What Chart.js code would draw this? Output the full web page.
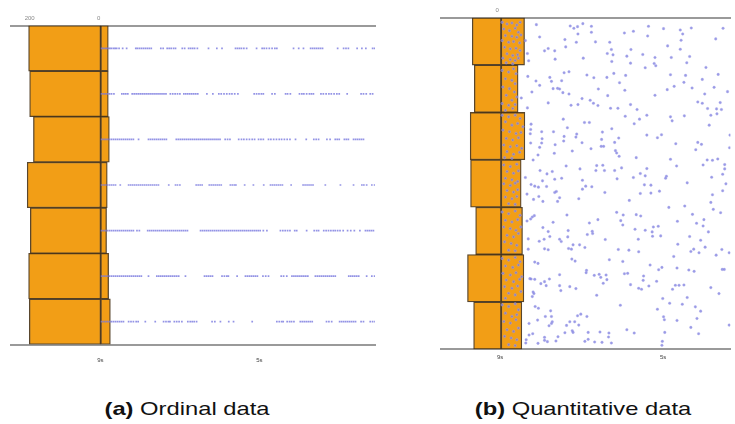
<!DOCTYPE html>
<html>
<head>
<meta charset="utf-8">
<script src="https://cdn.jsdelivr.net/npm/chart.js@4.4.1/dist/chart.umd.min.js"></script>
<style>
  body { margin: 0; background: #fff; width: 735px; height: 424px; position: relative; overflow: hidden; }
  canvas { position: absolute; top: 0; }
  #ordinalChart { left: 0; }
  #quantChart { left: 436px; }
  .caption { position: absolute; top: 398px; width: 300px; text-align: center; font: 19px/22px "Liberation Sans", Arial, sans-serif; color: #111; transform: scaleX(1.25); }
</style>
</head>
<body>
<canvas id="ordinalChart" width="380" height="370"></canvas>
<canvas id="quantChart" width="299" height="370"></canvas>
<div class="caption" style="left:37px"><b>(a)</b> Ordinal data</div>
<div class="caption" style="left:433px"><b>(b)</b> Quantitative data</div>
<script>
  // (a) ordinal data: 7 rows
  const rowsA = [0.5, 1.5, 2.5, 3.5, 4.5, 5.5, 6.5]
  const leftCountsA = [209, 206, 195, 213, 204, 209, 207]
  const rightCountsA = [22, 22, 25, 19, 17, 23, 28]
  const countTicksA = [200, 0]
  const timeTicks = [9, 5]

  // event times (s) per row
  const timesA = [
    [8.97,8.93,8.88,8.84,8.80,8.76,8.72,8.67,8.63,8.59,8.53,8.44,8.34,8.11,8.07,8.02,7.97,7.92,7.87,7.82,7.77,7.72,7.48,7.42,7.32,7.27,7.22,7.16,7.11,6.94,6.88,6.78,6.73,6.68,6.63,6.56,6.28,6.07,5.94,5.60,5.55,5.50,5.45,5.39,5.32,5.07,4.93,4.88,4.82,4.75,4.68,4.61,4.56,4.14,4.01,3.89,3.71,3.66,3.61,3.56,3.51,3.46,3.41,3.03,2.88,2.82,2.76,2.54,2.42,2.32,2.15,2.10],
    [8.97,8.92,8.87,8.82,8.77,8.72,8.66,8.46,8.41,8.36,8.31,8.20,8.15,8.10,8.05,8.00,7.95,7.90,7.85,7.80,7.75,7.70,7.65,7.60,7.55,7.50,7.45,7.40,7.35,7.24,7.18,7.12,7.06,7.00,6.90,6.85,6.80,6.75,6.70,6.65,6.60,6.55,6.32,6.17,6.02,5.96,5.89,5.82,5.75,5.69,5.62,5.54,5.13,5.07,5.01,4.95,4.90,4.68,4.61,4.34,4.29,4.22,3.99,3.93,3.88,3.81,3.74,3.69,3.64,3.45,3.39,3.32,3.25,3.19,3.12,3.05,2.99,2.79,2.44,2.38,2.31,2.21,2.15],
    [8.97,8.92,8.87,8.82,8.77,8.72,8.67,8.62,8.57,8.52,8.47,8.42,8.37,8.32,8.27,8.22,8.17,8.04,7.79,7.74,7.69,7.64,7.59,7.54,7.49,7.44,7.39,7.34,7.09,7.04,6.99,6.94,6.89,6.84,6.79,6.74,6.69,6.64,6.59,6.54,6.49,6.44,6.39,6.34,6.29,6.24,6.19,6.14,6.09,6.04,5.99,5.86,5.80,5.74,5.52,5.45,5.39,5.32,5.25,5.18,5.12,5.02,4.96,4.90,4.77,4.71,4.64,4.57,4.50,4.44,4.37,4.30,4.23,4.09,3.82,3.63,3.57,3.51,3.30,3.22,3.09,3.04,2.99,2.86,2.81,2.76,2.63,2.58,2.53,2.48,2.43,2.38],
    [8.97,8.92,8.87,8.82,8.77,8.72,8.67,8.62,8.50,8.29,8.24,8.19,8.14,8.09,8.04,7.99,7.94,7.89,7.84,7.79,7.74,7.69,7.64,7.59,7.54,7.28,7.11,7.06,7.00,6.59,6.54,6.49,6.44,6.26,6.21,6.16,6.11,6.06,6.01,5.96,5.73,5.68,5.63,5.59,5.37,5.15,4.89,4.72,4.67,4.62,4.57,4.52,4.47,4.42,4.20,3.90,3.85,3.80,3.75,3.70,3.65,3.34,2.96,2.63,2.42,2.37,2.30,2.17,2.10],
    [8.97,8.92,8.87,8.82,8.77,8.72,8.67,8.62,8.57,8.52,8.47,8.42,8.37,8.32,8.27,8.22,8.17,8.08,8.02,7.81,7.76,7.71,7.66,7.61,7.56,7.51,7.46,7.41,7.36,7.31,7.26,7.21,7.16,7.11,7.06,7.01,6.96,6.91,6.86,6.81,6.48,6.43,6.38,6.33,6.28,6.23,6.18,6.13,6.08,6.03,5.98,5.93,5.88,5.83,5.78,5.73,5.68,5.63,5.58,5.53,5.48,5.43,5.38,5.33,5.28,5.23,5.18,5.13,5.08,5.03,4.98,4.90,4.81,4.47,4.41,4.35,4.29,4.23,4.11,4.06,3.81,3.62,3.56,3.51,3.38,3.32,3.26,3.20,3.14,3.09,3.03,2.97,2.89,2.78,2.70,2.61,2.47,2.33,2.28,2.23,2.18,2.13],
    [8.97,8.92,8.87,8.82,8.77,8.72,8.67,8.62,8.57,8.52,8.47,8.42,8.37,8.32,8.27,8.22,8.17,8.12,8.07,8.02,7.97,7.79,7.58,7.53,7.48,7.43,7.38,7.33,7.28,7.23,7.18,7.13,7.08,7.03,6.86,6.38,6.33,6.28,6.23,6.18,5.94,5.88,5.82,5.78,5.56,5.35,5.30,5.25,5.20,5.15,5.10,5.05,4.91,4.84,4.77,4.45,4.39,4.31,4.18,4.13,4.08,4.03,3.98,3.93,3.88,3.83,3.78,3.59,3.54,3.49,3.44,3.39,3.34,3.29,3.24,3.19,3.14,3.09,2.75,2.70,2.65,2.60,2.55,2.50,2.30,2.17,2.10],
    [8.97,8.92,8.87,8.82,8.77,8.72,8.67,8.62,8.57,8.52,8.47,8.42,8.29,8.23,8.17,8.10,8.05,7.87,7.62,7.41,7.35,7.29,7.25,7.14,7.08,7.02,6.95,6.80,6.74,6.69,6.64,6.58,6.19,6.12,5.98,5.77,5.65,5.18,4.56,4.50,4.44,4.40,4.30,4.24,4.19,4.13,3.97,3.92,3.87,3.82,3.77,3.72,3.67,3.31,3.25,3.18,2.98,2.93,2.88,2.83,2.78,2.73,2.68,2.63,2.58,2.44,2.38,2.21,2.15,2.09]
  ]

  // (b) quantitative data: 7 bins over a 0-100 value range
  const binsB = [7.14, 21.43, 35.71, 50, 64.29, 78.57, 92.86]
  const leftCountsB = [85, 79, 91, 90, 75, 99, 81]
  const rightCountsB = [69, 50, 70, 59, 63, 67, 61]
  const countTicksB = [0]

  // [time (s), value]
  const pointsB = [
    [8.11,2.1],[7.28,2.5],[7.19,3.2],[7.10,2.7],[6.97,1.8],[6.76,2.6],[7.09,4.9],[6.76,4.4],[5.95,4.6],[5.73,4.1],[5.36,2.6],[4.99,3.3],[4.58,3.7],[4.52,4.9],[4.31,3.1],[3.53,3.2],
    [8.03,5.8],[7.41,6.6],[8.38,6.9],[7.13,7.4],[6.66,7.3],[6.31,7.4],[5.38,5.5],[4.56,6.8],[3.71,6.4],
    [7.39,8.8],[7.82,9.3],[7.91,10.0],[7.66,10.0],[6.27,9.6],[5.79,9.6],[4.89,8.5],[4.58,9.5],
    [8.33,10.8],[6.37,10.8],[6.23,11.2],[5.89,11.6],[5.50,11.1],[5.20,12.0],[4.80,12.0],[4.35,11.7],
    [8.30,13.0],[7.65,12.5],[6.96,12.2],[6.26,13.2],[5.80,13.7],[5.22,13.8],[5.18,14.5],[4.42,13.6],[3.95,15.0],[5.44,15.1],
    [7.43,16.6],[7.31,16.3],[6.87,17.3],[6.70,18.1],[6.38,18.0],[6.21,16.8],[5.92,17.4],[4.82,17.2],[4.45,17.4],[3.65,17.1],
    [8.32,17.7],[7.78,18.0],[8.12,19.1],[7.49,19.0],[8.03,20.4],[7.74,19.2],[6.07,19.6],[4.49,19.5],[4.04,18.6],
    [7.70,21.4],[7.59,21.3],[7.54,21.5],[6.59,21.5],[5.94,21.9],[4.90,21.7],[4.73,20.7],[4.29,21.2],[3.75,21.0],[3.42,22.3],
    [8.22,22.4],[7.46,22.6],[7.31,23.0],[6.36,23.5],[5.20,23.4],[3.98,23.0],[6.99,24.4],[6.79,24.9],[8.48,24.2],
    [7.82,25.7],[7.26,26.4],[7.09,26.2],[6.71,25.8],[6.60,26.5],[4.15,25.4],[4.04,25.8],[3.60,25.6],
    [8.33,27.2],[6.29,27.3],[6.11,27.3],[5.80,26.2],[5.64,27.7],[3.91,27.4],[3.69,27.5],[3.57,27.7],
    [5.93,29.7],[5.40,29.4],[4.82,29.9],[4.48,29.6],[3.83,29.4],[3.68,29.0],
    [7.45,30.6],[5.58,30.6],[4.78,31.1],[6.93,31.6],[6.81,31.6],[5.71,32.0],[3.87,32.4],[8.24,32.1],
    [8.25,33.7],[7.35,33.2],[6.26,33.5],[8.26,35.0],[7.98,34.4],[7.69,34.4],[7.12,35.1],[6.49,34.5],[5.40,35.4],[5.04,35.3],[5.14,36.2],[3.36,35.4],
    [7.97,36.5],[7.43,35.8],[7.14,36.0],[6.09,36.3],[6.51,36.7],[6.19,37.6],[4.15,37.6],[4.06,38.2],[4.69,38.0],
    [8.25,37.8],[7.98,37.8],[7.65,38.3],[7.44,37.2],[6.99,37.7],[6.52,38.8],[6.46,38.8],[8.03,39.1],[6.77,39.5],[6.17,40.1],[6.14,40.8],[4.20,39.8],[3.37,39.2],
    [8.07,41.4],[7.67,40.9],[7.23,40.2],[6.08,41.8],[5.66,42.2],[4.82,42.7],[3.92,42.9],[3.79,43.0],[3.66,42.6],[4.02,44.4],[3.49,44.3],
    [8.19,42.9],[7.38,44.7],[6.63,44.6],[6.48,44.5],[6.02,45.3],[5.40,45.5],[4.67,44.7],
    [8.02,46.1],[7.85,47.1],[7.72,46.4],[7.04,45.6],[6.65,46.1],[6.44,46.1],[6.19,46.1],[5.56,47.0],[3.49,45.6],[3.54,47.2],
    [4.92,47.8],[4.94,48.4],[5.73,48.2],[5.44,47.7],[7.96,49.2],[7.66,48.7],[7.49,48.4],[6.98,49.0],[8.38,48.2],[6.13,48.6],[3.81,48.1],
    [8.24,50.3],[8.15,50.8],[8.06,51.1],[7.86,50.9],[6.98,51.7],[6.90,50.8],[6.75,51.0],[5.46,50.4],[5.30,50.5],[4.41,49.8],[3.46,50.1],
    [8.34,53.2],[8.05,53.9],[8.18,54.8],[7.95,55.4],[7.66,52.7],[7.62,52.4],[7.54,54.3],[7.59,55.4],[7.07,54.6],[6.43,52.7],[5.56,53.0],[5.30,52.9],[5.09,52.3],[5.83,55.1],[3.79,53.4],[3.54,52.2],[3.83,55.7],
    [4.86,57.2],[4.47,56.8],[3.77,57.8],[3.59,58.8],[7.36,59.5],[6.14,58.7],[5.98,59.5],[5.66,59.4],[5.55,59.8],[4.28,59.3],
    [8.21,60.1],[8.16,59.7],[8.25,60.7],[8.34,61.3],[7.70,61.7],[6.81,61.9],[6.60,60.9],[6.04,61.2],[5.99,62.5],[4.65,61.4],[4.18,62.0],[4.00,60.9],[4.02,62.8],
    [7.95,63.3],[7.82,64.5],[7.78,66.0],[7.33,64.2],[6.74,64.4],[6.73,65.1],[6.86,65.4],[5.69,63.8],[5.44,64.1],[5.24,63.1],[5.12,62.9],[5.27,64.6],[5.26,65.9],[5.06,65.8],[3.89,64.6],
    [8.31,66.7],[8.04,67.4],[7.92,66.8],[7.54,66.8],[7.50,67.5],[7.34,66.1],[6.42,66.9],[5.61,66.8],[4.35,66.0],[4.08,67.1],
    [7.21,68.5],[7.05,68.5],[6.92,69.3],[7.32,69.6],[7.25,69.8],[7.91,69.7],[7.82,70.0],[8.31,69.8],[6.10,69.9],[5.84,70.1],[5.60,70.6],[4.64,68.3],[4.25,69.8],[4.32,70.5],[4.12,70.9],[3.97,69.2],[3.56,69.9],[3.70,71.6],[3.38,70.9],[4.74,72.0],
    [8.15,73.7],[8.07,74.1],[7.24,72.8],[7.16,73.4],[6.32,73.0],[5.99,73.5],[5.32,74.6],[5.11,76.0],[5.03,75.3],[4.66,75.5],[4.37,76.1],[4.24,76.5],[3.55,75.9],[3.50,75.9],
    [6.88,76.2],[6.89,76.9],[6.69,77.7],[6.57,77.4],[6.53,78.3],[6.40,77.6],[6.38,79.0],[7.54,77.5],[5.95,77.2],[5.87,77.1],[5.48,77.9],[5.49,79.2],[5.16,79.5],
    [8.27,78.7],[8.24,78.8],[8.15,78.9],[7.79,78.8],[7.91,79.6],[8.00,80.2],[7.87,80.8],[7.54,80.8],[7.51,82.3],[7.29,81.1],[7.14,81.7],[6.47,80.1],[5.80,80.5],[5.60,81.6],[5.53,81.9],[5.35,80.9],[4.77,81.9],[4.70,80.7],[4.61,80.7],[4.49,80.6],[3.83,81.4],[3.63,83.2],
    [8.19,82.7],[8.17,83.2],[8.21,84.1],[6.63,83.7],[5.01,84.7],[4.41,84.4],[4.84,86.1],[4.53,86.4],[6.05,86.7],[8.14,87.1],[8.06,87.6],[7.76,88.4],[5.14,87.9],[4.21,87.2],[4.08,88.5],
    [7.89,90.1],[7.74,90.1],[7.10,89.9],[7.02,89.4],[6.87,90.1],[4.99,90.2],[4.97,91.1],[4.66,91.3],[4.17,90.7],
    [8.29,92.2],[8.08,91.2],[7.72,91.7],[7.74,92.2],[7.80,92.9],[7.37,92.8],[7.29,91.7],[7.17,91.7],[7.07,92.7],[4.32,93.4],[3.38,92.7],
    [8.29,95.7],[8.20,95.3],[7.91,96.4],[7.58,96.2],[7.41,95.0],[7.23,94.4],[7.21,94.9],[6.84,94.9],[6.55,94.8],[6.33,95.1],[5.89,94.1],[5.71,95.1],[4.96,94.9],[4.13,95.3],
    [7.91,97.3],[7.84,97.7],[7.63,97.5],[6.92,97.6],[6.84,97.0],[6.68,97.8],[6.50,97.9],[6.34,96.3],[6.27,98.1],[8.07,98.2],[8.36,97.1],[8.37,98.1],[5.02,97.6],[5.03,98.8]
  ]

  // the dense cluster just after 9s
  const earlyPointsB = [
    [8.95,1.4],[8.83,1.9],[8.71,1.6],[8.59,2.2],[8.51,1.4],[8.91,3.4],[8.77,3.9],[8.63,3.2],[8.55,4.4],[8.87,5.4],[8.71,5.6],[8.59,5.9],[8.49,5.2],[8.95,6.9],[8.79,7.4],[8.67,7.2],[8.52,7.6],[8.89,8.9],[8.75,9.4],[8.61,9.2],[8.51,9.9],[8.83,10.9],[8.69,11.4],[8.57,11.2],[8.93,12.2],[8.75,12.6],[8.63,12.9],[8.55,12.2],[8.85,13.6],[8.69,13.9],
    [8.95,15.9],[8.79,16.4],[8.67,15.4],[8.61,16.9],[8.87,18.4],[8.71,18.9],[8.63,19.9],[8.93,20.9],[8.77,21.4],[8.65,22.4],[8.59,23.9],[8.85,23.4],[8.71,24.9],[8.95,25.9],[8.79,26.4],[8.63,26.2],[8.87,27.9],[8.69,27.4],
    [8.95,29.4],[8.79,29.9],[8.63,29.4],[8.51,30.4],[8.87,31.4],[8.71,32.4],[8.57,31.9],[8.44,32.9],[8.93,33.9],[8.77,34.4],[8.61,34.9],[8.49,34.6],[8.85,36.4],[8.69,36.9],[8.55,36.2],[8.91,38.4],[8.75,38.9],[8.59,38.6],[8.47,39.4],[8.83,40.4],[8.67,41.2],[8.52,40.6],[8.89,42.2],[8.71,42.4],
    [8.91,44.4],[8.75,44.9],[8.59,44.2],[8.83,46.4],[8.67,46.9],[8.55,46.2],[8.87,48.4],[8.71,48.9],[8.57,49.4],[8.91,50.1],[8.75,50.6],[8.63,49.9],[8.83,52.1],[8.67,52.6],[8.57,51.9],[8.87,54.1],[8.71,54.6],[8.59,53.9],[8.79,56.1],[8.63,56.3],
    [8.95,58.6],[8.79,59.1],[8.63,58.3],[8.51,59.6],[8.87,61.1],[8.71,61.6],[8.57,60.9],[8.91,63.1],[8.75,63.6],[8.61,64.1],[8.49,63.1],[8.83,65.6],[8.67,66.1],[8.55,65.1],[8.89,67.6],[8.73,68.1],[8.59,68.6],[8.79,70.1],[8.63,70.3],
    [8.95,72.6],[8.79,73.1],[8.63,72.3],[8.51,73.6],[8.87,74.9],[8.69,75.3],[8.55,74.6],[8.93,77.1],[8.75,77.6],[8.61,76.9],[8.47,78.1],[8.85,79.1],[8.67,79.6],[8.52,78.9],[8.89,81.1],[8.71,81.6],[8.57,80.9],[8.79,83.1],[8.63,83.6],[8.49,82.6],[8.87,84.6],
    [8.95,86.6],[8.79,87.1],[8.63,86.3],[8.55,88.1],[8.87,89.1],[8.71,90.1],[8.59,89.6],[8.91,91.6],[8.75,92.1],[8.61,91.1],[8.83,94.1],[8.67,94.6],[8.55,93.6],[8.89,96.1],[8.73,96.6],[8.59,97.1],[8.79,98.6],[8.63,98.9]
  ]

  const barFill = "#F29E16"
  const barEdge = "rgba(60,38,8,0.85)"
  const axisGrey = "#9a9a9a"
  const tickFont = { size: 6, family: "Liberation Sans" }

  function timeAxis(min, max, pad, height) {
    return {
      type: "linear",
      position: "bottom",
      reverse: true,
      offset: false,
      min: min,
      max: max,
      grid: { display: false, drawTicks: false, offset: false },
      border: { display: true, color: axisGrey, width: 2 },
      afterBuildTicks: (s) => { s.ticks = timeTicks.map((v) => ({ value: v })) },
      afterFit: (s) => { s.height = height },
      ticks: { padding: pad, color: "#444", font: tickFont, maxRotation: 0, autoSkip: false, callback: (v) => v + "s" },
    }
  }

  function countAxis(min, max, ticks, shift, height) {
    return {
      type: "linear",
      position: "top",
      reverse: true,
      offset: false,
      min: min,
      max: max,
      grid: { display: false, drawTicks: false, offset: false },
      border: { display: true, color: axisGrey, width: 2 },
      afterBuildTicks: (s) => { s.ticks = ticks.map((v) => ({ value: v })) },
      afterFit: (s) => { s.height = height },
      ticks: { padding: 3.6, labelOffset: shift, color: "#888", font: tickFont, maxRotation: 0, autoSkip: false, callback: (v) => v },
    }
  }

  // hidden row axis; no ticks so bar height comes from the row spacing
  function rowAxis(max) {
    return {
      type: "linear", min: 0, max: max, reverse: true, offset: false, display: false, grid: { offset: false },
      afterBuildTicks: (s) => { s.ticks = [] },
    }
  }

  function barSet(rows, counts, sign) {
    return {
      type: "bar",
      indexAxis: "y",
      xAxisID: "xc",
      yAxisID: "y",
      grouped: false,
      order: 2,
      data: rows.map((r, i) => ({ x: sign * counts[i], y: r })),
      backgroundColor: barFill,
      borderColor: barEdge,
      borderWidth: 1.3,
      borderSkipped: false,
      barPercentage: 1,
      categoryPercentage: 1,
    }
  }

  // Ordinal chart
  const ordinalPoints = []
  timesA.forEach((row, i) => row.forEach((t) => ordinalPoints.push({ x: t, y: rowsA[i] })))

  new Chart(document.getElementById("ordinalChart"), {
    type: "bar",
    data: {
      datasets: [
        barSet(rowsA, leftCountsA, 1),
        barSet(rowsA, rightCountsA, -1),
        {
          type: "scatter",
          xAxisID: "x",
          yAxisID: "y",
          order: 1,
          data: ordinalPoints,
          pointStyle: "rect",
          pointRadius: 1.2,
          pointBackgroundColor: "rgba(120,120,222,0.8)",
          pointBorderWidth: 0,
        },
      ],
    },
    options: {
      responsive: false,
      animation: false,
      layout: { padding: { left: 11, right: 5, top: 0, bottom: 0 } },
      plugins: { legend: { display: false }, tooltip: { enabled: false } },
      scales: {
        x: timeAxis(2.09, 11.25, 12.5, 25.5),
        xc: countAxis(-795, 260, countTicksA, -2, 25.5),
        y: rowAxis(7),
      },
    },
  })

  // Quantitative chart
  const quantPoints = pointsB.concat(earlyPointsB).map((p) => ({ x: p[0], y: p[1] }))

  new Chart(document.getElementById("quantChart"), {
    type: "bar",
    data: {
      datasets: [
        barSet(binsB, leftCountsB, 1),
        barSet(binsB, rightCountsB, -1),
        {
          type: "scatter",
          xAxisID: "x",
          yAxisID: "y",
          order: 1,
          data: quantPoints,
          pointRadius: 1.3,
          pointBackgroundColor: "rgba(120,120,222,0.75)",
          pointBorderColor: "rgba(170,170,235,0.6)",
          pointBorderWidth: 0.6,
        },
      ],
    },
    options: {
      responsive: false,
      animation: false,
      layout: { padding: { left: 5, right: 0, top: 0, bottom: 0 } },
      plugins: { legend: { display: false }, tooltip: { enabled: false } },
      scales: {
        x: timeAxis(3.35, 10.45, 4, 20.7),
        xc: countAxis(-675, 177, countTicksB, -4, 17.7),
        y: rowAxis(100),
      },
    },
  })
</script>
</body>
</html>
